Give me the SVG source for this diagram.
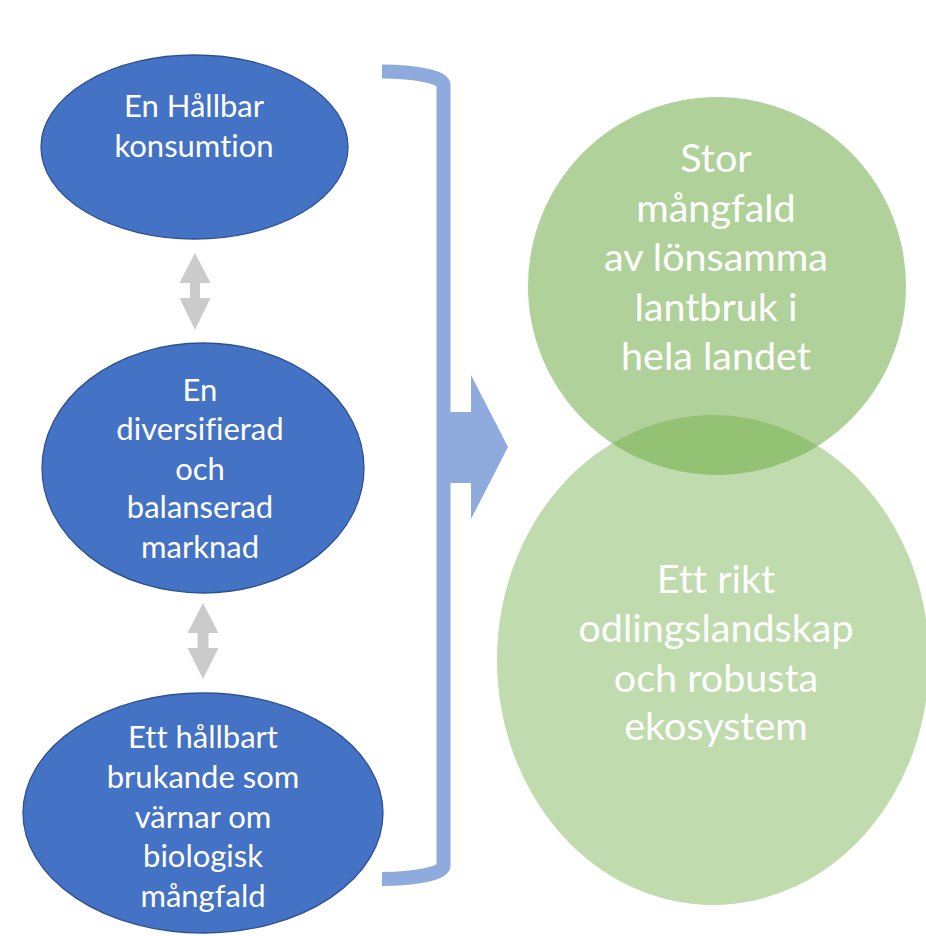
<svg xmlns="http://www.w3.org/2000/svg" width="926" height="936" viewBox="0 0 926 936">
<style>
.blue{fill:#4472C4;stroke:#2F528F;stroke-width:1.3}
.bt{font-family:Lato,"Open Sans",sans-serif;font-size:31px;fill:#fff;text-anchor:middle;font-variant-ligatures:none}
.gt{font-family:Lato,"Open Sans",sans-serif;font-size:39.5px;fill:#fff;text-anchor:middle;font-variant-ligatures:none}
.green{fill:#70AD47}
.dbl{fill:#CBCBCB}
.br{fill:none;stroke:#8FAADC;stroke-width:14}
</style>
<rect width="926" height="936" fill="#fff"/>
<g id="goal2">
<ellipse class="green" cx="713" cy="660" rx="216" ry="245" fill-opacity="0.44"/>
<text class="gt" x="716" y="593">Ett rikt</text>
<text class="gt" x="716" y="642">odlingslandskap</text>
<text class="gt" x="716" y="692">och robusta</text>
<text class="gt" x="716" y="740">ekosystem</text>
</g>
<g id="goal1">
<circle class="green" cx="717" cy="286" r="189" fill-opacity="0.55"/>
<text class="gt" x="716" y="172">Stor</text>
<text class="gt" x="716" y="222">mångfald</text>
<text class="gt" x="716" y="271">av lönsamma</text>
<text class="gt" x="716" y="321">lantbruk i</text>
<text class="gt" x="716" y="370">hela landet</text>
</g>
<g id="node1">
<ellipse class="blue" cx="194.5" cy="147" rx="153.5" ry="92"/>
<text class="bt" x="194" y="117">En Hållbar</text>
<text class="bt" x="194" y="157">konsumtion</text>
</g>
<g id="node2">
<ellipse class="blue" cx="203" cy="468" rx="161" ry="125"/>
<text class="bt" x="200" y="401">En</text>
<text class="bt" x="200" y="440">diversifierad</text>
<text class="bt" x="200" y="480">och</text>
<text class="bt" x="200" y="518">balanserad</text>
<text class="bt" x="200" y="558">marknad</text>
</g>
<g id="node3">
<ellipse class="blue" cx="203" cy="813" rx="180" ry="120"/>
<text class="bt" x="203" y="748">Ett hållbart</text>
<text class="bt" x="203" y="788">brukande som</text>
<text class="bt" x="203" y="828">värnar om</text>
<text class="bt" x="203" y="867">biologisk</text>
<text class="bt" x="203" y="907">mångfald</text>
</g>
<g id="connectors">
<polygon class="dbl" points="195,253 210.5,283 200,283 200,298 210.5,298 195,330 179.5,298 190,298 190,283 179.5,283"/>
<polygon class="dbl" points="203,603 218.5,633 208.5,633 208.5,648 218.5,648 203,679 187.5,648 197.5,648 197.5,633 187.5,633"/>
<path class="br" d="M382,71.5 A61.5,13 0 0 1 443.5,84.5 V866 A61.5,13 0 0 1 382,879"/>
<polygon fill="#8FAADC" points="443,412 471,412 471,375 508,447 471,519 471,483 443,483"/>
</g>
</svg>
